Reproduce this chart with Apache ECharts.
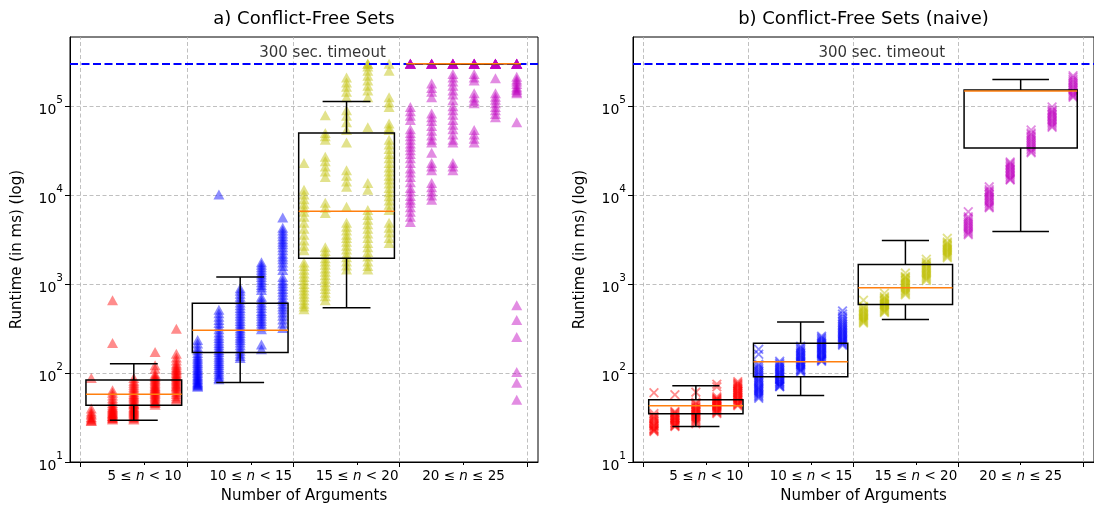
<!DOCTYPE html>
<html><head><meta charset="utf-8">
<script src="https://cdn.jsdelivr.net/npm/echarts@6/dist/echarts.min.js"></script>
<style>html,body{margin:0;padding:0;background:#fff}#c{width:1094px;height:509px}</style>
</head><body><div id="c"></div>
<script>
// ---------------- DATA ----------------
const groupRanges = [[5, 9], [10, 14], [15, 19], [20, 25]];
const majorTicks = [4.5, 9.5, 14.5, 19.5, 25.5];
const labelTicks = [7.5, 12.5, 17.5, 22.5];
const yTicks = [10, 100, 1000, 10000, 100000];
const groupLabels = ['5 ≤ n < 10', '10 ≤ n < 15', '15 ≤ n < 20', '20 ≤ n ≤ 25'];
const panelTitles = ['a) Conflict-Free Sets', 'b) Conflict-Free Sets (naive)'];
const timeoutMs = 300000;
const timeoutText = '300 sec. timeout';

// a) Conflict-Free Sets: one list of runtimes (ms) per n
const cfGroup1 = [
  [88, 40, 37, 35, 34, 32, 31, 30, 29, 29],
  [660, 218, 64, 60, 56, 52, 49, 46, 44, 42, 41, 40, 39, 38, 37, 36, 35, 35, 34, 33, 33, 32, 31, 31, 30],
  [88, 82, 78, 74, 70, 67, 64, 61, 58, 56, 54, 52, 50, 48, 46, 45, 44, 42, 41, 40, 39, 38, 37, 36, 35, 34, 33, 32, 31, 30],
  [172, 122, 112, 98, 94, 90, 87, 84, 81, 78, 75, 72, 70, 68, 66, 64, 62, 60, 58, 56, 54, 52, 50, 48, 47, 46, 44],
  [314, 165, 150, 138, 128, 122, 116, 112, 108, 104, 100, 96, 93, 90, 87, 84, 81, 78, 75, 72, 70, 67, 64, 61, 58, 55, 52, 50]
];
const cfGroup2 = [
  [236, 215, 195, 180, 168, 158, 150, 143, 136, 130, 124, 118, 113, 108, 104, 100, 96, 92, 89, 86, 83, 80, 78, 76, 74, 72, 70],
  [10200, 515, 470, 430, 395, 365, 335, 310, 285, 265, 248, 232, 218, 205, 193, 182, 172, 162, 153, 145, 137, 130, 123, 116, 110, 104, 98, 93, 88, 85],
  [900, 840, 780, 720, 670, 620, 580, 540, 505, 470, 440, 410, 385, 360, 338, 318, 300, 282, 265, 250, 235, 220, 205, 190, 178, 166, 155, 148],
  [1760, 1650, 1550, 1450, 1360, 1280, 1200, 1120, 1050, 980, 920, 860, 720, 670, 620, 580, 540, 500, 470, 440, 410, 385, 360, 335, 310, 210, 185],
  [5600, 4300, 4000, 3700, 3450, 3200, 3000, 2800, 2600, 2400, 2200, 2050, 1900, 1750, 1600, 1440, 1200, 1100, 1020, 950, 880, 820, 760, 700, 650, 600, 560, 520, 480, 440, 400, 360, 320]
];
const cfGroup3 = [
  [23000, 11500, 10200, 9000, 8000, 7200, 6500, 5700, 4900, 4200, 3600, 3100, 2700, 2400, 1750, 1600, 1450, 1320, 1200, 1100, 1000, 920, 850, 780, 720, 660, 600, 560, 520],
  [79000, 50000, 46000, 42000, 27000, 24000, 21000, 18500, 16000, 8200, 7200, 6300, 2600, 2350, 2150, 1950, 1800, 1650, 1500, 1380, 1260, 1150, 1050, 960, 880, 800, 730, 660],
  [210000, 185000, 165000, 145000, 126000, 90000, 78000, 66000, 54000, 39000, 19000, 16500, 14200, 12400, 7400, 4900, 4400, 4000, 3600, 3300, 3000, 2700, 2450, 2200, 2000, 1800, 1620, 1460],
  [300000, 300000, 280000, 250000, 220000, 195000, 170000, 150000, 126000, 58000, 13700, 11500, 6800, 6000, 5300, 4700, 4200, 3700, 3300, 2900, 2600, 2300, 2050, 1800, 1600, 1460],
  [300000, 250000, 126000, 110000, 98000, 64000, 58000, 54000, 42000, 37000, 33000, 29000, 26000, 23000, 20500, 18500, 16500, 15000, 13500, 12000, 10800, 9700, 8700, 7800, 6800, 4900, 4300, 3800, 3300, 2900]
];
const cfGroup4 = [
  [300000, 300000, 300000, 300000, 300000, 300000, 98000, 88000, 78000, 70000, 55000, 50000, 46000, 42000, 38000, 35000, 32000, 29000, 26000, 23000, 20000, 18000, 16000, 14000, 12000, 11000, 9800, 8900, 8200, 7300, 6500, 5700, 5000],
  [300000, 300000, 300000, 300000, 300000, 300000, 180000, 160000, 145000, 126000, 83000, 75000, 68000, 60000, 53000, 47000, 42000, 39000, 30000, 23000, 21000, 19000, 13700, 12300, 11000, 9900, 8900],
  [300000, 300000, 300000, 300000, 300000, 300000, 300000, 230000, 210000, 190000, 170000, 150000, 135000, 117000, 100000, 90000, 80000, 70000, 62000, 55000, 48000, 42000, 39000, 23000, 21000, 19000],
  [300000, 300000, 300000, 300000, 300000, 300000, 300000, 300000, 230000, 210000, 195000, 140000, 125000, 115000, 108000, 54000, 48000, 43000, 39000],
  [300000, 300000, 300000, 300000, 300000, 300000, 300000, 300000, 300000, 206000, 140000, 128000, 118000, 108000, 98000, 90000, 82000, 75000],
  [300000, 300000, 300000, 300000, 300000, 300000, 300000, 300000, 215000, 200000, 190000, 178000, 165000, 158000, 152000, 145000, 140000, 66000, 580, 396, 255, 103, 78, 50]
];
// box statistics per group: [lower whisker, Q1, median, Q3, upper whisker]
const cfBoxes = [
  [29.5, 43.4, 57.6, 83.5, 127],
  [78.5, 170, 303, 608, 1205],
  [543, 1950, 6600, 50000, 113000],
  [300000, 300000, 300000, 300000, 300000]
];

// b) Conflict-Free Sets (naive)
const naiveGroup1 = [
  [60, 35, 33, 32, 31, 30, 29, 28, 27, 26, 25.5, 25, 24, 23.5, 23, 22.5, 22],
  [57, 37, 36, 35, 34, 33, 32, 31.5, 31, 30, 29.5, 29, 28, 27.5, 27, 26, 25.5, 25],
  [61, 47, 45, 44, 42, 41, 40, 39, 38, 37, 36, 35, 34, 33, 32, 31, 30, 29, 28, 27],
  [75, 70, 54, 52, 51, 50, 49, 48, 47, 46, 45, 44, 43, 42, 41, 40, 39, 38, 37, 36, 35],
  [80, 77, 75, 73, 71, 69, 67, 65, 63, 62, 60, 59, 57, 56, 54, 53, 51, 50, 49, 47, 46, 45, 44, 43]
];
const naiveGroup2 = [
  [185, 163, 126, 120, 114, 109, 104, 100, 96, 92, 88, 85, 82, 79, 76, 73, 70, 68, 66, 64, 62, 60, 58, 56, 54, 52],
  [136, 130, 125, 120, 116, 112, 108, 104, 101, 98, 95, 92, 89, 86, 84, 81, 79, 77, 75, 73, 71, 70],
  [200, 192, 185, 178, 172, 166, 160, 155, 150, 145, 140, 136, 132, 128, 124, 120, 116, 112, 109, 106, 103],
  [260, 250, 241, 233, 225, 218, 211, 204, 198, 192, 186, 180, 175, 170, 165, 160, 155, 150, 146, 142, 139, 136],
  [500, 460, 430, 405, 385, 368, 352, 338, 325, 313, 302, 292, 282, 273, 264, 256, 248, 240, 233, 226, 219, 212, 206]
];
const naiveGroup3 = [
  [660, 560, 540, 520, 500, 485, 470, 455, 440, 428, 416, 405, 395, 385, 375, 365],
  [790, 720, 700, 680, 660, 642, 625, 608, 592, 576, 560, 545, 530, 516, 502, 490, 480],
  [1330, 1220, 1190, 1160, 1120, 1085, 1050, 1015, 980, 950, 920, 890, 860, 835, 810, 785, 760],
  [1900, 1760, 1700, 1640, 1585, 1530, 1480, 1430, 1380, 1335, 1290, 1250, 1210, 1170, 1135, 1100],
  [3270, 2970, 2880, 2790, 2700, 2620, 2540, 2460, 2390, 2320, 2250, 2180, 2110, 2040, 1980]
];
const naiveGroup4 = [
  [6500, 5700, 5450, 5200, 4980, 4770, 4570, 4380, 4200, 4030, 3870, 3720, 3600],
  [12400, 11500, 11100, 10700, 10300, 9900, 9500, 9100, 8750, 8400, 8050, 7700, 7400, 7200],
  [23600, 22800, 22000, 21200, 20400, 19600, 18900, 18200, 17500, 16800, 16200, 15600, 15100, 14800],
  [54000, 50000, 48000, 46000, 44000, 42000, 40200, 38500, 36800, 35200, 33700, 32300, 31000, 30000],
  [98000, 91000, 88000, 85000, 82000, 79000, 76000, 73000, 70000, 67500, 65000, 62500, 60000, 58000],
  [220000, 210000, 200000, 192000, 184000, 176000, 169000, 162000, 156000, 150000, 144000, 139000, 134000, 130000, 126000]
];
const naiveBoxes = [
  [25, 34.8, 43, 50, 72],
  [56, 91, 134, 217, 375],
  [400, 590, 910, 1660, 3100],
  [3900, 34000, 148000, 152000, 200000]
];

// ---------------- CHART ----------------
const FONT = 'DejaVu Sans';
const groupColors = ['#ff0000', '#0000ff', '#bfbf00', '#bf00bf'];
const xMarker = 'path://M0,1.3 L1.3,0 L5,3.7 L8.7,0 L10,1.3 L6.3,5 L10,8.7 L8.7,10 L5,6.3 L1.3,10 L0,8.7 L3.7,5 Z';

function columnsToPoints(range, cols) {
  const pts = [];
  cols.forEach((col, i) => col.forEach(v => pts.push([range[0] + i, v])));
  return pts;
}

function renderBox(params, api) {
  const lo = api.value(0), hi = api.value(1);
  const c = (lo + hi) / 2, w = 0.9 * (hi - lo + 1);
  const mn = api.value(2), q1 = api.value(3), md = api.value(4), q3 = api.value(5), mx = api.value(6);
  const pTL = api.coord([c - w / 2, q3]);
  const pBR = api.coord([c + w / 2, q1]);
  const xc = api.coord([c, md])[0];
  const yMin = api.coord([c, mn])[1], yMax = api.coord([c, mx])[1], yMed = api.coord([c, md])[1];
  const capL = api.coord([c - w / 4, mn])[0], capR = api.coord([c + w / 4, mn])[0];
  const black = { stroke: '#000', lineWidth: 1.5, fill: 'none' };
  return {
    type: 'group', children: [
      { type: 'line', shape: { x1: xc, y1: pTL[1], x2: xc, y2: yMax }, style: black },
      { type: 'line', shape: { x1: xc, y1: pBR[1], x2: xc, y2: yMin }, style: black },
      { type: 'line', shape: { x1: capL, y1: yMax, x2: capR, y2: yMax }, style: black },
      { type: 'line', shape: { x1: capL, y1: yMin, x2: capR, y2: yMin }, style: black },
      { type: 'rect', shape: { x: pTL[0], y: pTL[1], width: pBR[0] - pTL[0], height: pBR[1] - pTL[1] }, style: black },
      { type: 'line', shape: { x1: pTL[0], y1: yMed, x2: pBR[0], y2: yMed }, style: { stroke: '#ff7f0e', lineWidth: 1.5 } }
    ]
  };
}

function fmtX(v) {
  let idx = -1;
  labelTicks.forEach((t, i) => { if (Math.abs(t - v) < 1e-6) idx = i; });
  if (idx < 0) return '';
  return groupLabels[idx].replace('n', '{i|n}');
}
function fmtY(v) {
  const e = Math.log10(v), r = Math.round(e);
  if (Math.abs(e - r) > 1e-6) return '';
  return '{b|10}{s|' + r + '}';
}

const grids = [], xAxes = [], yAxes = [], series = [];
const panels = [
  { left: 70, groups: [cfGroup1, cfGroup2, cfGroup3, cfGroup4], boxes: cfBoxes, symbol: 'triangle', size: [11, 10], alpha: 0.45 },
  { left: 633, groups: [naiveGroup1, naiveGroup2, naiveGroup3, naiveGroup4], boxes: naiveBoxes, symbol: xMarker, size: [10, 10], alpha: 0.45 }
];

panels.forEach((p, k) => {
  grids.push({ left: p.left, top: 37, width: 468, height: 426, show: true, borderColor: '#000', borderWidth: 1, backgroundColor: 'transparent', containLabel: false });
  const xa = xAxes.length;
  xAxes.push({
    gridIndex: k, type: 'value', min: 4, max: 26, position: 'bottom',
    axisLine: { show: true, lineStyle: { color: '#000', width: 1 } },
    axisTick: { show: true, customValues: majorTicks, length: 5, lineStyle: { color: '#000', width: 1 } },
    axisLabel: {
      show: true, customValues: labelTicks, formatter: fmtX, margin: 7, color: '#000', fontSize: 13.5, fontFamily: FONT,
      rich: { i: { fontStyle: 'italic', fontSize: 13.5, fontFamily: FONT, color: '#000' } }
    },
    splitLine: { show: false },
    name: 'Number of Arguments', nameLocation: 'middle', nameGap: 27,
    nameTextStyle: { fontSize: 15, color: '#000', fontFamily: FONT }
  });
  xAxes.push({
    gridIndex: k, type: 'value', min: 4, max: 26, position: 'bottom',
    axisLine: { show: false },
    axisTick: { show: true, customValues: labelTicks, length: 3, lineStyle: { color: '#000', width: 1 } },
    axisLabel: { show: false }, splitLine: { show: false }
  });
  xAxes.push({
    gridIndex: k, type: 'value', min: 4, max: 26, position: 'top',
    axisLine: { show: false }, axisTick: { show: false }, axisLabel: { show: false }, splitLine: { show: false },
    name: panelTitles[k], nameLocation: 'middle', nameGap: 9,
    nameTextStyle: { fontSize: 18, color: '#000', fontFamily: FONT }
  });
  yAxes.push({
    gridIndex: k, type: 'log', logBase: 10, min: 10, max: 600000,
    axisLine: { show: true, lineStyle: { color: '#000', width: 1 } },
    axisTick: { show: true, customValues: yTicks, length: 5, lineStyle: { color: '#000', width: 1 } },
    axisLabel: {
      customValues: yTicks, formatter: fmtY, margin: 7, color: '#000',
      rich: {
        b: { fontSize: 14, fontFamily: FONT, color: '#000', lineHeight: 22, verticalAlign: 'bottom' },
        s: { fontSize: 10.5, fontFamily: FONT, color: '#000', lineHeight: 22, verticalAlign: 'top' }
      }
    },
    splitLine: { show: true, lineStyle: { color: '#b0b0b0', type: [4, 2.5], width: 0.8 } },
    minorTick: { show: false },
    name: 'Runtime (in ms) (log)', nameLocation: 'middle', nameGap: 45,
    nameTextStyle: { fontSize: 15, color: '#000', fontFamily: FONT }
  });
  // vertical grid lines at group boundaries
  series.push({
    type: 'line', xAxisIndex: xa, yAxisIndex: k, data: [], silent: true, z: 1,
    markLine: {
      silent: true, symbol: ['none', 'none'], label: { show: false }, animation: false,
      lineStyle: { color: '#b0b0b0', type: [4, 2.5], width: 0.8 },
      data: majorTicks.map(v => ({ xAxis: v }))
    }
  });
  // timeout line
  series.push({
    type: 'line', xAxisIndex: xa, yAxisIndex: k, data: [], silent: true, z: 2,
    markLine: {
      silent: true, symbol: ['none', 'none'], label: { show: false }, animation: false,
      lineStyle: { color: '#0000ff', type: [8, 3.5], width: 2 },
      data: [{ yAxis: timeoutMs }]
    }
  });
  // scatter per group
  p.groups.forEach((cols, g) => {
    series.push({
      type: 'scatter', xAxisIndex: xa, yAxisIndex: k, z: 3,
      symbol: p.symbol, symbolSize: p.size,
      itemStyle: { color: groupColors[g], opacity: p.alpha },
      data: columnsToPoints(groupRanges[g], cols)
    });
  });
  // boxes
  series.push({
    type: 'custom', xAxisIndex: xa, yAxisIndex: k, z: 5,
    renderItem: renderBox,
    encode: { x: [0, 1], y: [2, 3, 4, 5, 6] },
    data: groupRanges.map((r, g) => [r[0], r[1]].concat(p.boxes[g]))
  });
  // timeout text
  series.push({
    type: 'scatter', xAxisIndex: xa, yAxisIndex: k, z: 6, symbolSize: 0, silent: true,
    data: [[15.87, timeoutMs]],
    label: { show: true, position: 'top', distance: 3, formatter: timeoutText, fontSize: 15, color: '#000', fontFamily: FONT }
  });
});

const chart = echarts.init(document.getElementById('c'), null, { renderer: 'canvas' });
chart.setOption({
  animation: false,
  backgroundColor: '#fff',
  textStyle: { fontFamily: FONT },
  grid: grids, xAxis: xAxes, yAxis: yAxes, series: series
});
</script></body></html>
